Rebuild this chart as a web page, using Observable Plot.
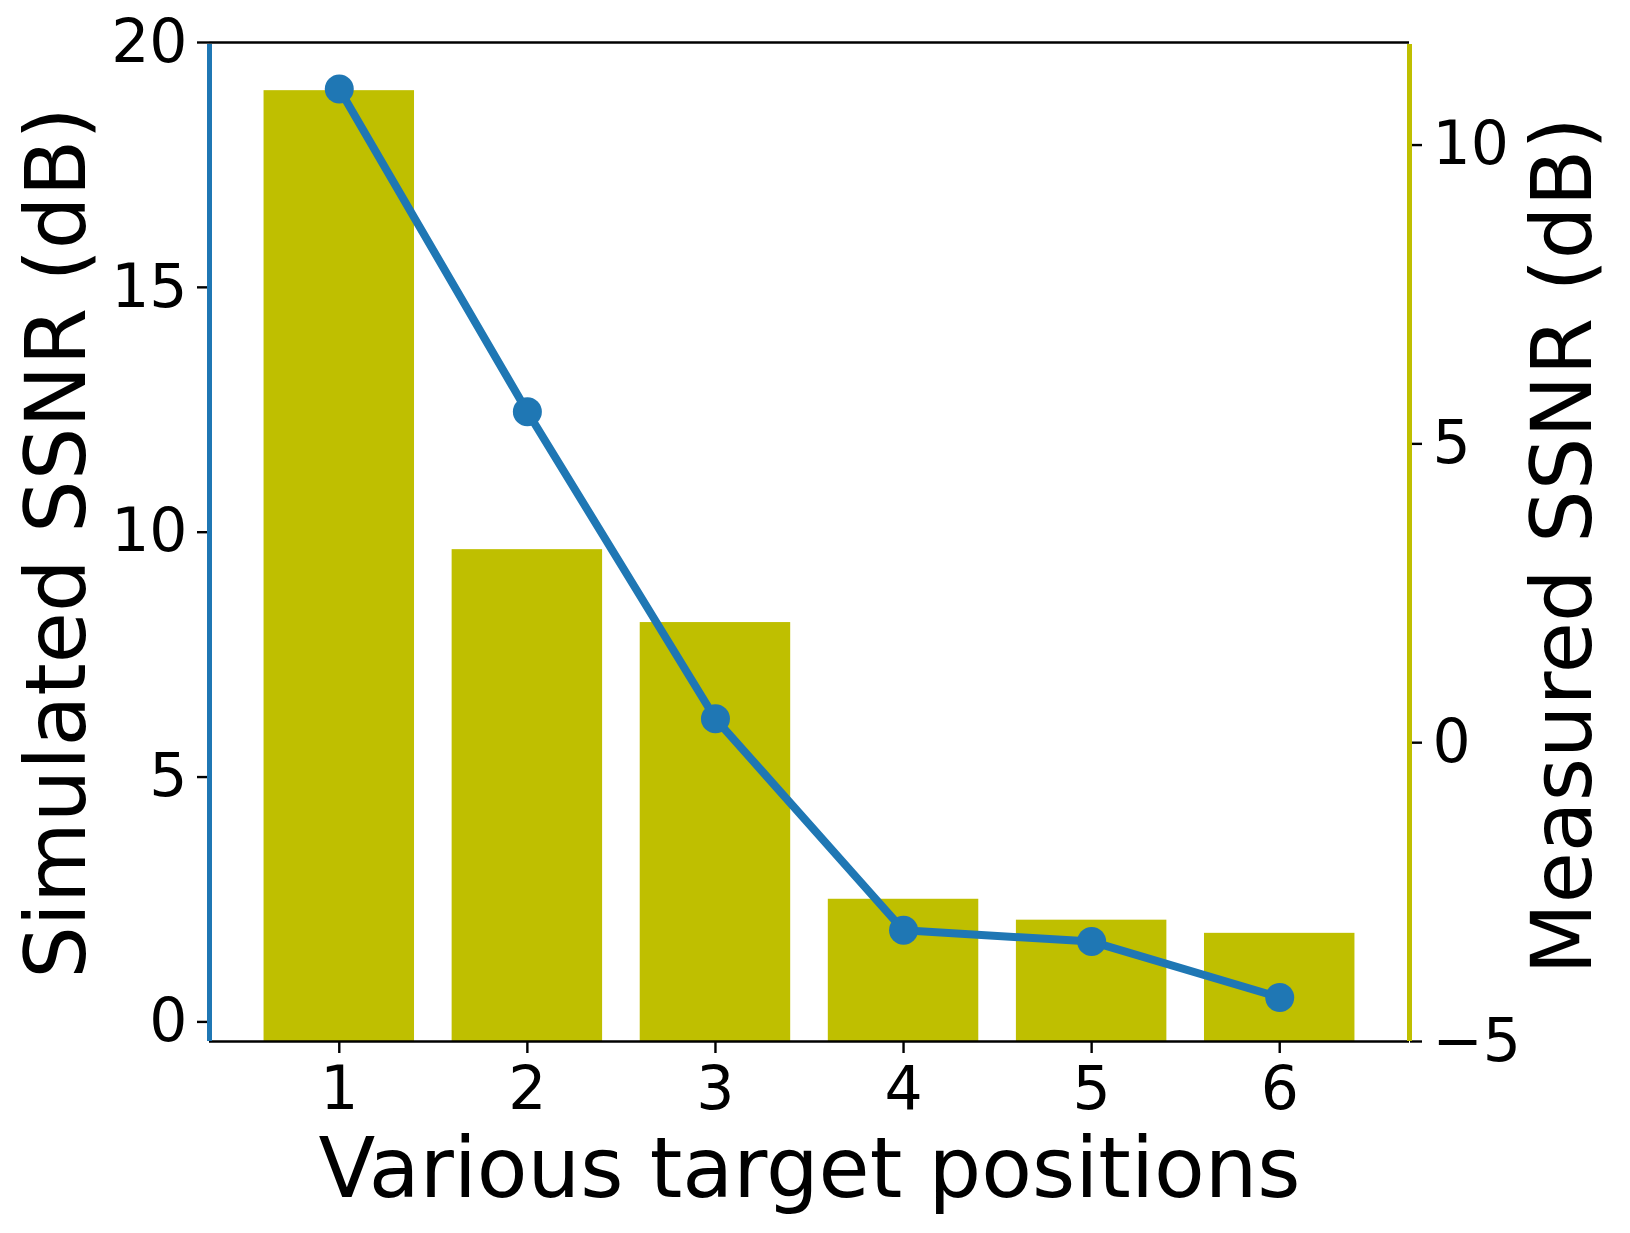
<!DOCTYPE html>
<html>
<head>
<meta charset="utf-8">
<script src="https://cdn.jsdelivr.net/npm/d3@7"></script>
<script src="https://cdn.jsdelivr.net/npm/@observablehq/plot@0.6"></script>
<style>
  html, body { margin: 0; padding: 0; background: #fff; }
  #chart svg { display: block; }
</style>
</head>
<body>
<div id="chart"></div>
<script>
// ---- data ----
const positions = [1, 2, 3, 4, 5, 6];
const simulatedSSNR = [19.05, 12.46, 6.19, 1.87, 1.64, 0.50];   // left axis (line)
const measuredSSNR = [10.91, 3.23, 2.01, -2.62, -2.97, -3.19];  // right axis (bars)
const leftTicks = [0, 5, 10, 15, 20];
const rightTicks = [-5, 0, 5, 10];
const xTicks = [1, 2, 3, 4, 5, 6];

const xLabel = "Various target positions";
const leftLabel = "Simulated SSNR (dB)";
const rightLabel = "Measured SSNR (dB)";

// axis limits (as in the source figure)
const leftDomain = [-0.4, 20];
const rightDomain = [-5, 11.716];
const xDomain = [0.31, 6.69];
const barWidth = 0.8;

const blue = "#1f77b4";
const olive = "#bfbf00";

// map the right-axis values onto the left (plot) y scale
const toLeft = d3.scaleLinear().domain(rightDomain).range(leftDomain);

const rows = positions.map((p, i) => ({
  pos: p,
  simulated: simulatedSSNR[i],
  measured: measuredSSNR[i]
}));

const fmt = v => {
  const r = Math.round(v);
  return r < 0 ? "\u2212" + Math.abs(r) : String(r);
};

const chart = Plot.plot({
  width: 1630,
  height: 1233,
  marginLeft: 209,
  marginRight: 221,
  marginTop: 42,
  marginBottom: 192,
  style: { fontFamily: "DejaVu Sans", background: "#fff", color: "#000" },
  x: { type: "linear", domain: xDomain },
  y: { type: "linear", domain: leftDomain },
  marks: [
    // bars (measured, right axis)
    Plot.rectY(rows, {
      x1: d => d.pos - barWidth / 2,
      x2: d => d.pos + barWidth / 2,
      y1: () => toLeft(rightDomain[0]),
      y2: d => toLeft(d.measured),
      fill: olive
    }),
    // line + markers (simulated, left axis)
    Plot.line(rows, { x: "pos", y: "simulated", stroke: blue, strokeWidth: 8 }),
    Plot.dot(rows, { x: "pos", y: "simulated", r: 14.5, fill: blue, stroke: null }),
    // top & bottom spines
    Plot.ruleY([leftDomain[1]], { stroke: "#000", strokeWidth: 2.4 }),
    Plot.ruleY([leftDomain[0]], { stroke: "#000", strokeWidth: 2.4 }),
    // bottom x axis
    Plot.axisX({
      ticks: xTicks, tickFormat: d => String(d), tickSize: 12, tickPadding: 13,
      fontSize: 60, label: null, stroke: "#000", strokeWidth: 2.4
    }),
    // left y axis
    Plot.axisY({
      anchor: "left", ticks: leftTicks, tickFormat: d => String(d), tickSize: 12, tickPadding: 10,
      fontSize: 60, label: null, stroke: "#000", strokeWidth: 2.4
    }),
    // right y axis (measured)
    Plot.axisY({
      anchor: "right", ticks: rightTicks.map(t => toLeft(t)),
      tickFormat: d => fmt(toLeft.invert(d)), tickSize: 12, tickPadding: 11,
      fontSize: 60, label: null, stroke: "#000", strokeWidth: 2.4
    }),
    // coloured side spines
    Plot.ruleX([xDomain[0]], { stroke: blue, strokeWidth: 5, y1: leftDomain[0], y2: leftDomain[1], insetBottom: -2 }),
    Plot.ruleX([xDomain[1]], { stroke: olive, strokeWidth: 5, y1: leftDomain[0], y2: leftDomain[1], insetBottom: -2 }),
    // axis titles
    Plot.text([xLabel], {
      frameAnchor: "bottom", lineAnchor: "middle", dy: 129, fontSize: 83, fill: "#000"
    }),
    Plot.text([leftLabel], {
      frameAnchor: "left", rotate: -90, lineAnchor: "middle", textAnchor: "middle",
      dx: -151, dy: 1, fontSize: 83, fill: "#000"
    }),
    Plot.text([rightLabel], {
      frameAnchor: "right", rotate: -90, lineAnchor: "middle", textAnchor: "middle",
      dx: 155, dy: 4, fontSize: 83, fill: "#000"
    })
  ]
});

document.getElementById("chart").appendChild(chart);
</script>
</body>
</html>
